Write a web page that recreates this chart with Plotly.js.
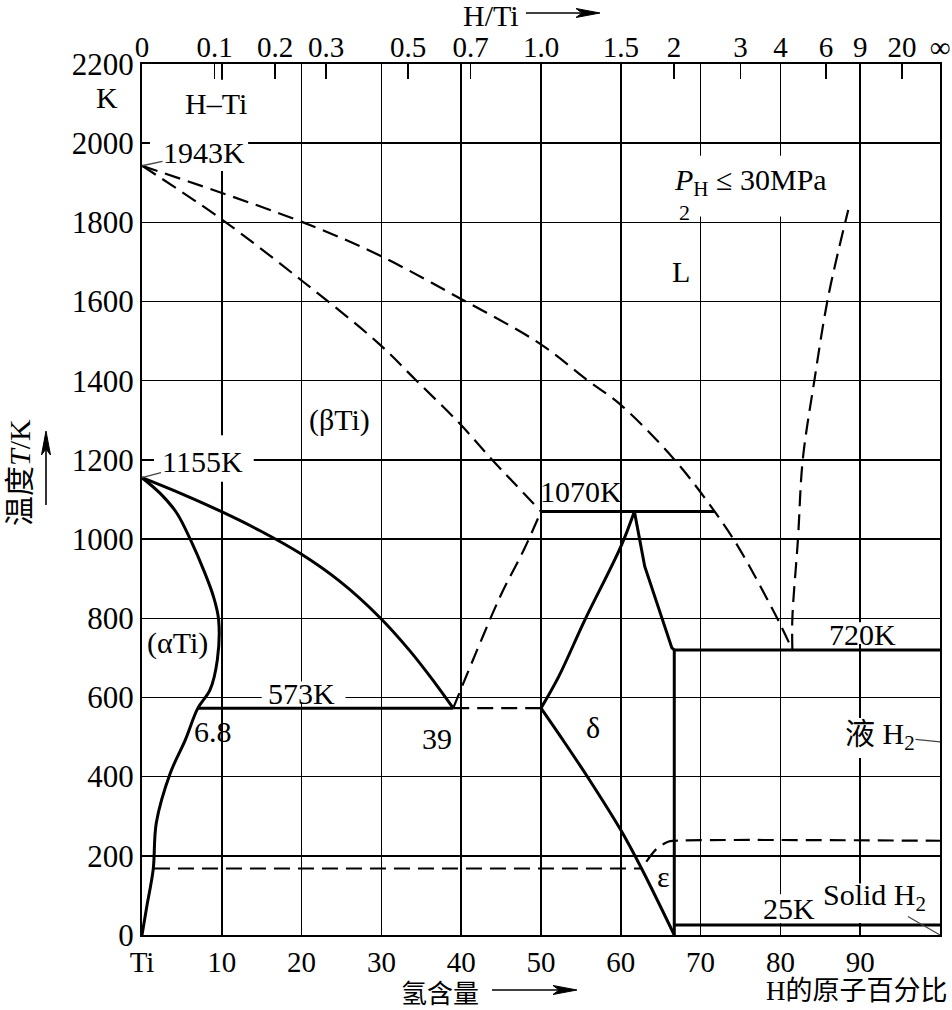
<!DOCTYPE html>
<html><head><meta charset="utf-8">
<script src="https://cdn.plot.ly/plotly-3.0.1.min.js"></script>
<style>html,body{margin:0;padding:0;background:#fff}#chart{width:952px;height:1010px}</style>
</head><body><div id="chart"></div>
<script>
// ---------- data (H at.% , T in K) ----------
const alphaX = [0, 2.25, 4.35, 6.2, 7.7, 8.95, 9.6, 9.44, 8.52, 7.0, 5.43, 3.55, 1.8, 1.4, 0.6, 0];
const alphaT = [1155, 1116, 1066, 993, 923, 855, 796, 695, 619, 573, 493, 409, 284, 165, 72, 0];
const betaX = [0, 4.76, 9.77, 14.8, 19.8, 24.8, 29.8, 33.6, 36.7, 39];
const betaT = [1155, 1116, 1071, 1021, 964, 893, 802, 717, 637, 573];
const eut573X = [6.9, 39];
const eut573T = [573, 573];
const dash573X = [39, 50];
const dash573T = [573, 573];
const eut1070X = [50, 71.75];
const eut1070T = [1070, 1070];
const deltaLeftX = [50, 52.2, 55.5, 60, 61.7];
const deltaLeftT = [573, 652, 796, 981, 1070];
const deltaRightX = [61.7, 63, 66.4, 66.7];
const deltaRightT = [1070, 931, 725, 720];
const eut720X = [66.7, 100];
const eut720T = [720, 720];
const dihydX = [66.7, 66.7];
const dihydT = [720, 0];
const solid25X = [66.7, 100];
const solid25T = [25, 25];
const deltaLowX = [50, 53, 56.1, 60, 62.6, 66.7];
const deltaLowT = [573, 485, 391, 265, 168, 0];
const solidusX = [0, 9.75, 20.2, 29.6, 34.4, 39.75, 43.9, 50];
const solidusT = [1943, 1811, 1650, 1495, 1400, 1293, 1200, 1070];
const liquidusX = [0, 20.2, 29.6, 39.75, 49.75, 55.9, 60, 66.75, 71.75, 74.7, 79.7, 81.5];
const liquidusT = [1943, 1800, 1718, 1609, 1495, 1400, 1339, 1200, 1070, 981, 796, 720];
const betaDeltaX = [39, 42, 45, 47.9, 50];
const betaDeltaT = [573, 720, 860, 975, 1070];
const dash170X = [1.5, 62.6];
const dash170T = [168, 168];
const epsX = [63.2, 64.5, 66.0, 66.7, 100];
const epsT = [185, 218, 236, 238, 238];
const gasX = [81.5, 81.5, 82.2, 82.8, 84.25, 86, 88.5];
const gasT = [720, 800, 1000, 1200, 1400, 1613, 1831];

const topRatios = [0, 0.1, 0.2, 0.3, 0.5, 0.7, 1.0, 1.5, 2, 3, 4, 6, 9, 20, Infinity];
const topLabels = ['0', '0.1', '0.2', '0.3', '0.5', '0.7', '1.0', '1.5', '2', '3', '4', '6', '9', '20', '∞'];
const bottomTicks = [0, 10, 20, 30, 40, 50, 60, 70, 80, 90];
const bottomLabels = ['Ti', '10', '20', '30', '40', '50', '60', '70', '80', '90'];
const yTicks = [0, 200, 400, 600, 800, 1000, 1200, 1400, 1600, 1800, 2000, 2200];

// ---------- layout helpers ----------
const W = 952, H = 1010, ML = 142, MR = 12, MT = 64, MB = 75;
const pw = W - ML - MR, ph = H - MT - MB;
const PX = p => (p - ML) / pw;
const PY = p => (H - MB - p) / ph;
const FONT = 'Liberation Serif, Times New Roman, Noto Sans CJK SC, serif';
const CJK = 'Noto Sans CJK SC, Liberation Serif, serif';
const topPos = topRatios.map(r => isFinite(r) ? 100 * r / (1 + r) : 100);

const solid = {color: '#000', width: 3};
const dashed = {color: '#000', width: 2.2, dash: '16px,8px'};
function tr(x, y, line, shape) {
  return {x: x, y: y, type: 'scatter', mode: 'lines', line: Object.assign({shape: shape || 'linear', smoothing: 1}, line),
          hoverinfo: 'skip', showlegend: false, cliponaxis: false};
}

const traces = [
  tr(alphaX, alphaT, solid, 'spline'),
  tr(betaX, betaT, solid, 'spline'),
  tr(eut573X, eut573T, solid),
  tr(dash573X, dash573T, dashed),
  tr(eut1070X, eut1070T, solid),
  tr(deltaLeftX, deltaLeftT, solid, 'spline'),
  tr(deltaRightX, deltaRightT, solid),
  tr(eut720X, eut720T, solid),
  tr(dihydX, dihydT, solid),
  tr(solid25X, solid25T, solid),
  tr(deltaLowX, deltaLowT, solid, 'spline'),
  tr(solidusX, solidusT, dashed, 'spline'),
  tr(liquidusX, liquidusT, dashed, 'spline'),
  tr(betaDeltaX, betaDeltaT, dashed, 'spline'),
  tr(dash170X, dash170T, dashed),
  tr(epsX, epsT, dashed, 'spline'),
  tr(gasX, gasT, dashed, 'spline'),
  {x: [0, 100], y: [0, 0], xaxis: 'x2', type: 'scatter', mode: 'markers', marker: {opacity: 0}, hoverinfo: 'skip', showlegend: false}
];

const lf = {family: FONT, size: 30, color: '#000'};
function lab(x, y, text, opts) {
  return Object.assign({x: x, y: y, xref: 'x', yref: 'y', text: text, showarrow: false, font: lf, borderpad: 0,
                        xanchor: 'center', yanchor: 'middle'}, opts || {});
}
function ptxt(px, py, text, opts) {
  return Object.assign({xref: 'paper', yref: 'paper', x: PX(px), y: PY(py), text: text, showarrow: false, font: lf,
                        xanchor: 'center', yanchor: 'middle'}, opts || {});
}
const annotations = [
  lab(9.3, 2101, 'H–Ti'),
  lab(0, 1943, '1943K', {showarrow: true, arrowhead: 0, arrowwidth: 1.3, ax: 62, ay: -13, standoff: 0}),
  lab(0, 1155, '1155K', {showarrow: true, arrowhead: 0, arrowwidth: 1.3, ax: 60, ay: -16, standoff: 0}),
  lab(76.2, 1902, '<i>P</i><sub>H</sub> ≤ 30MPa'),
  lab(68, 1826, '2', {font: {family: FONT, size: 22, color: '#000'}}),
  lab(67.5, 1676, 'L'),
  lab(24.75, 1301, '(βTi)'),
  lab(55, 1120, '1070K'),
  lab(4.5, 737, '(αTi)'),
  lab(20, 611, '573K'),
  lab(8.9, 515, '6.8'),
  lab(37, 497, '39'),
  lab(56.5, 523, 'δ'),
  lab(90.3, 760, '720K'),
  lab(100, 488, '液 H<sub>2</sub>', {font: {family: 'Liberation Serif, Noto Sans CJK SC, serif', size: 30, color: '#000'},
    showarrow: true, arrowhead: 0, arrowwidth: 1.2, ax: -60, ay: -6, standoff: 0}),
  lab(65.3, 148, 'ε'),
  lab(81.1, 66, '25K'),
  lab(100, 0, 'Solid H<sub>2</sub>', {showarrow: true, arrowhead: 0, arrowwidth: 1.2, ax: -66, ay: -38, standoff: 0}),
  // texts outside the plot area
  ptxt(120, 97, 'K', {xanchor: 'right'}),
  ptxt(491, 15, 'H/Ti'),
  ptxt(440, 991, '氢含量', {font: {family: CJK, size: 26, color: '#000'}}),
  ptxt(950, 991, 'H的原子百分比', {xanchor: 'right', font: {family: FONT, size: 27, color: '#000'}}),
  ptxt(19, 473, '温度<i>T</i>/K', {textangle: -90, font: {family: FONT, size: 30, color: '#000'}})
];

// arrows drawn as shapes (line + narrow head), given in page pixels
function arrowShapes(x0, y0, x1, y1) {
  const dx = x1 - x0, dy = y1 - y0, L = Math.hypot(dx, dy), ux = dx / L, uy = dy / L, nx = -uy, ny = ux;
  const hl = 24, hw = 4.5, notch = 18;
  const pts = [[x1, y1], [x1 - ux * hl + nx * hw, y1 - uy * hl + ny * hw], [x1 - ux * notch, y1 - uy * notch],
               [x1 - ux * hl - nx * hw, y1 - uy * hl - ny * hw]];
  const path = 'M' + pts.map(p => PX(p[0]).toFixed(5) + ',' + PY(p[1]).toFixed(5)).join(' L') + ' Z';
  return [
    {type: 'line', xref: 'paper', yref: 'paper', x0: PX(x0), y0: PY(y0), x1: PX(x1 - ux * notch), y1: PY(y1 - uy * notch),
     line: {color: '#000', width: 1.6}, layer: 'above'},
    {type: 'path', xref: 'paper', yref: 'paper', path: path, fillcolor: '#000', line: {color: '#000', width: 1}, layer: 'above'}
  ];
}
// white masks that hide grid lines behind labels (between grid and traces)
function mask(x0, x1, y0, y1) {
  return {type: 'rect', xref: 'x', yref: 'y', x0: x0, x1: x1, y0: y0, y1: y1, fillcolor: '#fff', line: {width: 0}, layer: 'between'};
}
const shapes = [
  mask(4, 14.5, 2005, 2160),
  mask(1, 13.3, 1930, 2040),
  mask(1.5, 14, 1145, 1262),
  mask(65, 87.5, 1815, 1968),
  mask(15, 25.5, 588, 640),
  mask(86, 95.5, 735, 790),
  mask(88, 97, 447, 548),
  mask(77, 85, 30, 103),
  mask(85.5, 97, 30, 130),
  ...arrowShapes(526, 13, 600, 13),
  ...arrowShapes(492, 990, 577, 990),
  ...arrowShapes(46, 505, 46, 431)
];

const layout = {
  width: W, height: H,
  margin: {l: ML, r: MR, t: MT, b: MB, pad: 0},
  paper_bgcolor: '#fff', plot_bgcolor: '#fff',
  showlegend: false,
  font: lf,
  xaxis: {range: [0, 100], tickvals: bottomTicks, ticktext: bottomLabels, ticks: '', showgrid: true, gridcolor: '#000', gridwidth: 1.5,
          zeroline: false, showline: true, linecolor: '#000', linewidth: 2, mirror: true, tickfont: {family: FONT, size: 29, color: '#000'}, fixedrange: true},
  xaxis2: {overlaying: 'x', side: 'top', anchor: 'y', range: [0, 100], tickvals: topPos, ticktext: topLabels, ticks: 'inside', ticklen: 15,
           tickwidth: 1.5, tickcolor: '#000', showgrid: false, zeroline: false, showline: false, tickfont: {family: FONT, size: 29, color: '#000'}, fixedrange: true},
  yaxis: {range: [0, 2200], tickvals: yTicks, ticks: '', showgrid: true, gridcolor: '#000', gridwidth: 1.5, zeroline: false,
          showline: true, linecolor: '#000', linewidth: 2, mirror: true, tickfont: {family: FONT, size: 31, color: '#000'}, fixedrange: true},
  annotations: annotations,
  shapes: shapes
};

Plotly.newPlot('chart', traces, layout, {displayModeBar: false, staticPlot: true});
</script>
</body></html>
